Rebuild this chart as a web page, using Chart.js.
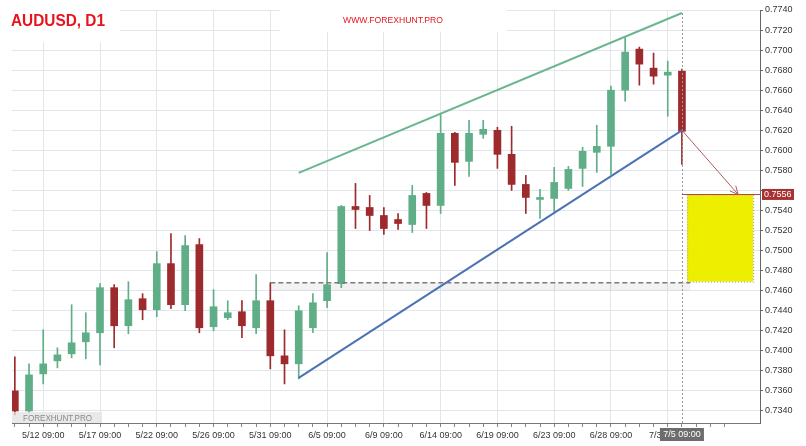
<!DOCTYPE html>
<html>
<head>
<meta charset="utf-8">
<script src="https://cdn.jsdelivr.net/npm/chart.js@4/dist/chart.umd.min.js"></script>
<style>
  html, body { margin: 0; padding: 0; background: #fff; }
  canvas { display: block; }
</style>
</head>
<body>
<canvas id="chart" width="806" height="446"></canvas>
<script>
// AUDUSD daily candles, 5/10 .. 7/4 (index = candle number)
const opens  = [0.7360, 0.7340, 0.7377, 0.7390, 0.7397, 0.7409, 0.7418, 0.7463, 0.7425, 0.7452,
                0.7441, 0.7487, 0.7446, 0.7506, 0.7424, 0.7433, 0.7439, 0.7423, 0.7450, 0.7395,
                0.7387, 0.7423, 0.7450, 0.7467, 0.7544, 0.7543, 0.7535, 0.7531, 0.7526, 0.7557,
                0.7545, 0.7617, 0.7589, 0.7616, 0.7620, 0.7596, 0.7566, 0.7551, 0.7552, 0.7562,
                0.7582, 0.7598, 0.7604, 0.7660, 0.7701, 0.7682, 0.7675, 0.7679];
const highs  = [0.7394, 0.7387, 0.7421, 0.7403, 0.7446, 0.7438, 0.7467, 0.7466, 0.7469, 0.7457,
                0.7499, 0.7517, 0.7515, 0.7512, 0.7461, 0.7450, 0.7450, 0.7476, 0.7468, 0.7421,
                0.7445, 0.7457, 0.7498, 0.7545, 0.7567, 0.7555, 0.7543, 0.7537, 0.7565, 0.7558,
                0.7637, 0.7618, 0.7630, 0.7630, 0.7623, 0.7624, 0.7575, 0.7561, 0.7583, 0.7584,
                0.7603, 0.7625, 0.7664, 0.7713, 0.7703, 0.7697, 0.7689, 0.7681];
const lows   = [0.7336, 0.7338, 0.7367, 0.7383, 0.7393, 0.7392, 0.7386, 0.7403, 0.7417, 0.7431,
                0.7434, 0.7442, 0.7440, 0.7418, 0.7420, 0.7431, 0.7413, 0.7417, 0.7382, 0.7367,
                0.7372, 0.7418, 0.7443, 0.7463, 0.7522, 0.7520, 0.7516, 0.7521, 0.7518, 0.7522,
                0.7537, 0.7565, 0.7574, 0.7612, 0.7582, 0.7560, 0.7537, 0.7532, 0.7539, 0.7560,
                0.7564, 0.7578, 0.7576, 0.7649, 0.7665, 0.7666, 0.7634, 0.7586];
const closes = [0.7340, 0.7376, 0.7387, 0.7396, 0.7408, 0.7418, 0.7463, 0.7425, 0.7451, 0.7441,
                0.7487, 0.7446, 0.7505, 0.7423, 0.7444, 0.7438, 0.7425, 0.7450, 0.7395, 0.7387,
                0.7440, 0.7448, 0.7466, 0.7544, 0.7541, 0.7535, 0.7522, 0.7527, 0.7555, 0.7545,
                0.7617, 0.7588, 0.7617, 0.7621, 0.7596, 0.7566, 0.7553, 0.7553, 0.7568, 0.7581,
                0.7599, 0.7604, 0.7660, 0.7698, 0.7686, 0.7674, 0.7678, 0.7619];

const labelIndexes = [2, 6, 10, 14, 18, 22, 26, 30, 34, 38, 42, 46];
const dateLabels = ['5/12 09:00', '5/17 09:00', '5/22 09:00', '5/26 09:00', '5/31 09:00', '6/5 09:00',
                    '6/9 09:00', '6/14 09:00', '6/19 09:00', '6/23 09:00', '6/28 09:00', '7/3 09:00'];
const lastTickIndex = 50;
const priceTicks = [0.7340, 0.7360, 0.7380, 0.7400, 0.7420, 0.7440, 0.7460, 0.7480, 0.7500, 0.7520,
                    0.7540, 0.7560, 0.7580, 0.7600, 0.7620, 0.7640, 0.7660, 0.7680, 0.7700, 0.7720, 0.7740];

// drawn analysis
const upperTrend = [{ x: 20, y: 0.75775 }, { x: 47, y: 0.7737 }];
const lowerTrend = [{ x: 20, y: 0.7373 }, { x: 47, y: 0.7620 }];
const projection = [{ x: 47, y: 0.7620 }, { x: 50.96, y: 0.7556 }];
const breakoutLevel = 0.7468;
const breakoutFrom = 18;
const breakoutTo = 47.58;
const targetZone = { x0: 47.37, x1: 52.02, top: 0.7556, bottom: 0.7469 };
const targetPrice = 0.7556;
const cursorIndex = 47;
const cursorLabel = '7/5 09:00';

const green = '#5fae87';
const red = '#9d2a2c';
const gridColor = '#e3e5ec';

const candleColors = opens.map((o, i) => closes[i] >= o ? green : red);
const bodies = opens.map((o, i) => ({ x: i, y: [o, closes[i]] }));
const wicks = lows.map((l, i) => ({ x: i, y: [l, highs[i]] }));

const overlays = {
  id: 'overlays',
  beforeDatasetsDraw(chart) {
    const { ctx, scales: { x, y } } = chart;
    ctx.save();
    // faint band under breakout level
    const bx0 = x.getPixelForValue(breakoutFrom);
    const bx1 = x.getPixelForValue(breakoutTo);
    const by = y.getPixelForValue(breakoutLevel);
    ctx.fillStyle = 'rgba(0,0,0,0.05)';
    ctx.fillRect(bx0, by, bx1 - bx0, 8);
    // target zone
    const zx0 = x.getPixelForValue(targetZone.x0);
    const zx1 = x.getPixelForValue(targetZone.x1);
    const zy0 = y.getPixelForValue(targetZone.top);
    const zy1 = y.getPixelForValue(targetZone.bottom);
    ctx.fillStyle = '#eeee00';
    ctx.fillRect(zx0, zy0, zx1 - zx0, zy1 - zy0);
    ctx.strokeStyle = '#999';
    ctx.lineWidth = 1;
    ctx.setLineDash([1, 2]);
    ctx.strokeRect(zx0 + 0.5, zy0 + 0.5, zx1 - zx0, zy1 - zy0);
    ctx.restore();
  },
  afterDatasetsDraw(chart) {
    const { ctx, chartArea, scales: { x, y } } = chart;
    ctx.save();
    // breakout dashed level
    const by = y.getPixelForValue(breakoutLevel);
    ctx.strokeStyle = '#7a7a7a';
    ctx.lineWidth = 1.5;
    ctx.setLineDash([5, 3]);
    ctx.beginPath();
    ctx.moveTo(x.getPixelForValue(breakoutFrom), by);
    ctx.lineTo(x.getPixelForValue(breakoutTo), by);
    ctx.stroke();
    // cursor line
    const cx = Math.round(x.getPixelForValue(cursorIndex)) + 0.5;
    ctx.strokeStyle = '#999';
    ctx.lineWidth = 1;
    ctx.setLineDash([2, 2]);
    ctx.beginPath();
    ctx.moveTo(cx, y.getPixelForValue(upperTrend[1].y));
    ctx.lineTo(cx, chartArea.bottom);
    ctx.stroke();
    ctx.setLineDash([]);
    // target price line
    const ty = Math.round(y.getPixelForValue(targetPrice)) + 0.5;
    ctx.strokeStyle = '#b04848';
    ctx.beginPath();
    ctx.moveTo(x.getPixelForValue(cursorIndex), ty);
    ctx.lineTo(chartArea.right, ty);
    ctx.stroke();
    // projection arrow
    const sx = x.getPixelForValue(projection[0].x), sy = y.getPixelForValue(projection[0].y);
    const ex = x.getPixelForValue(projection[1].x), ey = y.getPixelForValue(projection[1].y);
    ctx.strokeStyle = '#b45c5c';
    ctx.beginPath();
    ctx.moveTo(sx, sy);
    ctx.lineTo(ex, ey);
    const ang = Math.atan2(ey - sy, ex - sx);
    for (const d of [-0.45, 0.45]) {
      ctx.moveTo(ex, ey);
      ctx.lineTo(ex - 9 * Math.cos(ang + d), ey - 9 * Math.sin(ang + d));
    }
    ctx.stroke();
    ctx.restore();
  },
  afterDraw(chart) {
    const { ctx, chartArea, scales: { x, y } } = chart;
    ctx.save();
    // title
    ctx.fillStyle = '#fff';
    ctx.fillRect(0, 0, 120, 42);
    ctx.fillStyle = '#e8131b';
    ctx.font = 'bold 16px "Liberation Sans", Arial, sans-serif';
    ctx.textBaseline = 'alphabetic';
    ctx.fillText('AUDUSD, D1', 11, 26, 94);
    // site
    ctx.fillStyle = '#fff';
    ctx.fillRect(280, 0, 227, 32);
    ctx.fillStyle = '#e8131b';
    ctx.font = '9px "Liberation Sans", Arial, sans-serif';
    ctx.fillText('WWW.FOREXHUNT.PRO', 343, 23, 100);
    // watermark
    ctx.fillStyle = 'rgba(225,225,225,0.75)';
    ctx.fillRect(12, 412, 90, 11);
    ctx.fillStyle = '#8a8a8a';
    ctx.font = '9px "Liberation Sans", Arial, sans-serif';
    ctx.fillText('FOREXHUNT.PRO', 23, 421, 69);
    // target price tag
    const ty = y.getPixelForValue(targetPrice);
    ctx.fillStyle = '#a83232';
    ctx.fillRect(762, ty - 5.5, 32, 11);
    ctx.fillStyle = '#fff';
    ctx.textBaseline = 'middle';
    ctx.fillText(targetPrice.toFixed(4), 764, ty + 0.5);
    // cursor time tag
    const cx = x.getPixelForValue(cursorIndex);
    ctx.fillStyle = '#6d6d6d';
    ctx.fillRect(cx - 22, chartArea.bottom + 5, 44, 13);
    ctx.fillStyle = '#fff';
    ctx.textAlign = 'center';
    ctx.fillText(cursorLabel, cx, chartArea.bottom + 12);
    ctx.restore();
  }
};

Chart.defaults.font.family = '"Liberation Sans", Arial, sans-serif';
Chart.defaults.font.size = 9;
Chart.defaults.color = '#333';

new Chart(document.getElementById('chart'), {
  type: 'bar',
  data: {
    datasets: [
      { type: 'line', data: upperTrend, borderColor: '#6ab68f', borderWidth: 2, pointRadius: 0, fill: false, order: 0 },
      { type: 'line', data: lowerTrend, borderColor: '#4b73b3', borderWidth: 2, pointRadius: 0, fill: false, order: 0 },
      { data: bodies, backgroundColor: candleColors, barThickness: 7, minBarLength: 1, grouped: false, order: 1 },
      { data: wicks, backgroundColor: candleColors, barThickness: 1, grouped: false, order: 2 }
    ]
  },
  options: {
    responsive: false,
    animation: false,
    devicePixelRatio: 1,
    layout: { padding: { left: 12, top: 10, right: 0, bottom: 0 } },
    plugins: { legend: { display: false }, tooltip: { enabled: false } },
    scales: {
      x: {
        type: 'linear',
        min: -0.2,
        max: 52.5,
        offset: false,
        afterBuildTicks: s => { s.ticks = Array.from({ length: lastTickIndex + 1 }, (_, i) => ({ value: i })); },
        afterFit: s => { s.height = 23; },
        grid: {
          offset: false,
          color: c => labelIndexes.includes(c.tick && c.tick.value) ? gridColor : 'rgba(0,0,0,0)',
          tickColor: '#888',
          tickLength: 4
        },
        border: { color: '#777' },
        ticks: {
          autoSkip: false,
          maxRotation: 0,
          padding: 3,
          callback: v => {
            const k = labelIndexes.indexOf(v);
            return k >= 0 ? dateLabels[k] : '';
          }
        }
      },
      y: {
        position: 'right',
        min: 0.7328,
        max: 0.7740,
        afterBuildTicks: s => { s.ticks = priceTicks.map(v => ({ value: v })); },
        afterFit: s => { s.width = 46; },
        grid: { color: gridColor, tickColor: '#666', tickLength: 3 },
        border: { color: '#666' },
        // the price tag hides the label it sits on
        ticks: { padding: 2, callback: v => Math.abs(v - targetPrice) < 0.0006 ? '' : v.toFixed(4) }
      }
    }
  },
  plugins: [overlays]
});
</script>
</body>
</html>
